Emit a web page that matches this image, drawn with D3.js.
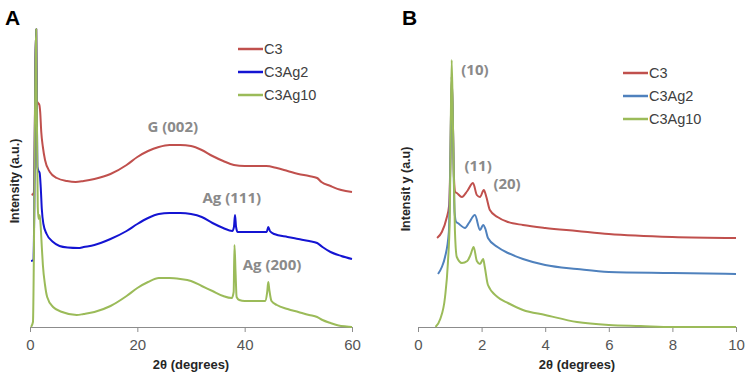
<!DOCTYPE html>
<html><head><meta charset="utf-8">
<script src="https://cdn.jsdelivr.net/npm/d3@7"></script>
<style>body{margin:0;background:#fff}svg{display:block}</style>
</head><body>
<svg id="c" width="750" height="381"></svg>
<script>
// ---------- DATA ----------
const seriesNames = ["C3", "C3Ag2", "C3Ag10"];
const colorsA = ["#c0504d", "#1414d2", "#9bbb59"];
const colorsB = ["#c0504d", "#4f81bd", "#9bbb59"];
const ticksA = [0, 20, 40, 60];
const ticksB = [0, 2, 4, 6, 8, 10];
const xTitle = "2θ (degrees)";
const yTitleA = "Intensity (a.u.)";
const yTitleB = "Intensit y (a.u)";

// Panel A: [2θ, intensity (a.u., offset curves)]
const aC3 = [[0.3,132],[0.7,134],[0.88,190],[1.0,260],[1.15,298],[1.26,226],[1.5,224],[1.75,222],[1.9,215],[2.1,195],[2.4,180],[2.8,167],[3.7,155],[5,149],[6.9,146],[8.5,145],[10,146],[12,148],[15,153],[18,162],[20,170],[22,176],[24,180],[26,182],[28,182],[30,181],[32,177],[34,171],[36,166],[38,162],[40,161],[42,161],[44,161],[46,159],[48,156],[50,153],[52,151],[53.5,149],[54.3,145],[56,141],[58,137],[60,135]];
const aC3Ag2 = [[0.2,66],[0.65,67],[0.8,120],[1.0,260],[1.15,298],[1.3,200],[1.38,160],[1.6,156],[1.8,154],[2.0,140],[2.2,118],[2.5,103],[3.1,93],[4.3,85],[5.5,81],[7,79.5],[9,79],[10,80],[12,82],[15,88],[18,96],[20,103],[22,109],[24,113],[26,114],[28,114],[30,113],[32,110],[34,104],[36,99],[37.7,96],[38.0,100],[38.2,112],[38.4,100],[38.7,95],[40,95],[42,95],[44.1,95],[44.4,100],[44.7,96],[45.5,93],[48,90],[50,88],[52,86],[53.5,84],[54.5,80],[56,75],[58,71],[60,68]];
const aC3Ag10 = [[0.2,0],[0.55,5],[0.8,120],[1.0,260],[1.15,298],[1.3,200],[1.45,120],[1.6,108],[1.8,112],[2.0,100],[2.2,80],[2.4,62],[2.8,42],[3.2,30],[4.3,20],[6,15],[8.7,12],[10,13],[12,15],[15,21],[18,31],[20,39],[22,45],[24,49],[26,49],[28,48],[30,46],[32,41],[34,36],[36,31],[37.6,29],[37.95,35],[38.1,82],[38.3,55],[38.5,30],[39,27],[40,26],[42,26],[43.8,26],[44.2,35],[44.4,45],[44.6,37],[45,26],[46,22],[48,18],[50,15],[52,12],[53.5,10],[54.5,7],[56,4],[57.5,1.5],[59,0.5],[60,0]];

// Panel B
const bC3 = [[0.6,89],[0.75,95],[0.9,109],[0.98,122],[1.02,170],[1.06,250],[1.1,200],[1.13,150],[1.17,135],[1.22,134],[1.38,130],[1.55,136],[1.73,144],[1.85,132],[1.95,130],[2.07,137],[2.15,130],[2.26,117],[2.5,110],[2.83,105],[3.3,102],[4,99],[5,96],[6,93],[8,90],[10,89]];
const bC3Ag2 = [[0.63,53],[0.75,60],[0.85,70],[0.97,95],[1.02,170],[1.06,250],[1.1,200],[1.15,115],[1.2,105],[1.25,104],[1.48,99],[1.6,104],[1.79,112],[1.95,97],[2.05,102],[2.12,98],[2.2,89],[2.5,80],[2.83,74],[3.3,68],[4,62],[5,58],[6,55],[8,54],[10,53]];
const bC3Ag10 = [[0.55,0],[0.7,8],[0.85,30],[0.94,64],[1.0,110],[1.03,200],[1.06,267],[1.1,200],[1.16,97],[1.22,70],[1.38,64],[1.55,66],[1.65,72],[1.75,80],[1.85,66],[1.95,63],[2.05,68],[2.1,60],[2.2,42],[2.5,30],[2.83,24],[3.3,17],[4,12],[5,5],[6,2],[7,1],[8,0],[10,0]];

const annotA = [["G (002)", 26.6, 195], ["Ag (111)", 37.6, 124], ["Ag (200)", 45.1, 57]];
const annotB = [["(10)", 1.79, 252], ["(11)", 1.89, 156], ["(20)", 2.8, 138]];

// ---------- DRAW ----------
const svg = d3.select("#c");
const axisColor = "#8c8c8c";
const arial = "'Liberation Sans', Arial, sans-serif";

function panel(opts) {
  const x = d3.scaleLinear().domain(opts.xDomain).range(opts.xRange);
  const y = d3.scaleLinear().domain([0, 300]).range([327, 27]);
  const g = svg.append("g");
  const ax = g.append("g").attr("transform", "translate(0,327)")
    .call(d3.axisBottom(x).tickValues(opts.ticks).tickSize(5).tickSizeOuter(0).tickPadding(7));
  ax.select(".domain").attr("stroke", axisColor);
  ax.selectAll(".tick line").attr("stroke", axisColor);
  ax.selectAll(".tick text").attr("font-family", arial).attr("font-size", 15).attr("fill", "#555");

  const line = d3.line().x(d => x(d[0])).y(d => y(d[1])).curve(d3.curveMonotoneX);
  opts.series.forEach((s, i) => {
    g.append("path").attr("d", line(s)).attr("fill", "none")
      .attr("stroke", opts.colors[i]).attr("stroke-width", 2).attr("stroke-linejoin", "round");
  });

  opts.annots.forEach(a => {
    g.append("text").attr("x", x(a[1])).attr("y", y(a[2])).attr("text-anchor", "middle")
      .attr("font-family", "'Open Sans', sans-serif").attr("font-weight", "bold").attr("font-size", 15)
      .attr("fill", "#8a8a8a").text(a[0]);
  });

  // legend
  seriesNames.forEach((n, i) => {
    const ly = opts.legendY + i * 23;
    g.append("line").attr("x1", opts.legendX).attr("x2", opts.legendX + 25).attr("y1", ly).attr("y2", ly)
      .attr("stroke", opts.colors[i]).attr("stroke-width", 2.5);
    g.append("text").attr("x", opts.legendX + 26).attr("y", ly + 5)
      .attr("font-family", arial).attr("font-size", 14.5).attr("fill", "#404040").text(n);
  });

  // titles
  g.append("text").attr("x", (opts.xRange[0] + opts.xRange[1]) / 2).attr("y", 369).attr("text-anchor", "middle")
    .attr("font-family", arial).attr("font-weight", "bold").attr("font-size", 13).attr("fill", "#262626").text(xTitle);
  g.append("text").attr("transform", `translate(${opts.yTitleX},${opts.yTitleY}) rotate(-90)`).attr("text-anchor", "middle")
    .attr("font-family", arial).attr("font-weight", "bold").attr("font-size", 12.5).attr("fill", "#262626").text(opts.yTitle);
  g.append("text").attr("x", opts.labelX).attr("y", 25)
    .attr("font-family", arial).attr("font-weight", "bold").attr("font-size", 21).attr("fill", "#000").text(opts.label);
}

panel({xDomain: [0, 60], xRange: [30, 352], ticks: ticksA, series: [aC3, aC3Ag2, aC3Ag10], colors: colorsA,
  annots: annotA, legendX: 238, legendY: 49, yTitle: yTitleA, yTitleX: 19, yTitleY: 181, label: "A", labelX: 5});
panel({xDomain: [0, 10], xRange: [418, 736], ticks: ticksB, series: [bC3, bC3Ag2, bC3Ag10], colors: colorsB,
  annots: annotB, legendX: 623, legendY: 73, yTitle: yTitleB, yTitleX: 410, yTitleY: 189, label: "B", labelX: 402});
</script>
</body></html>
